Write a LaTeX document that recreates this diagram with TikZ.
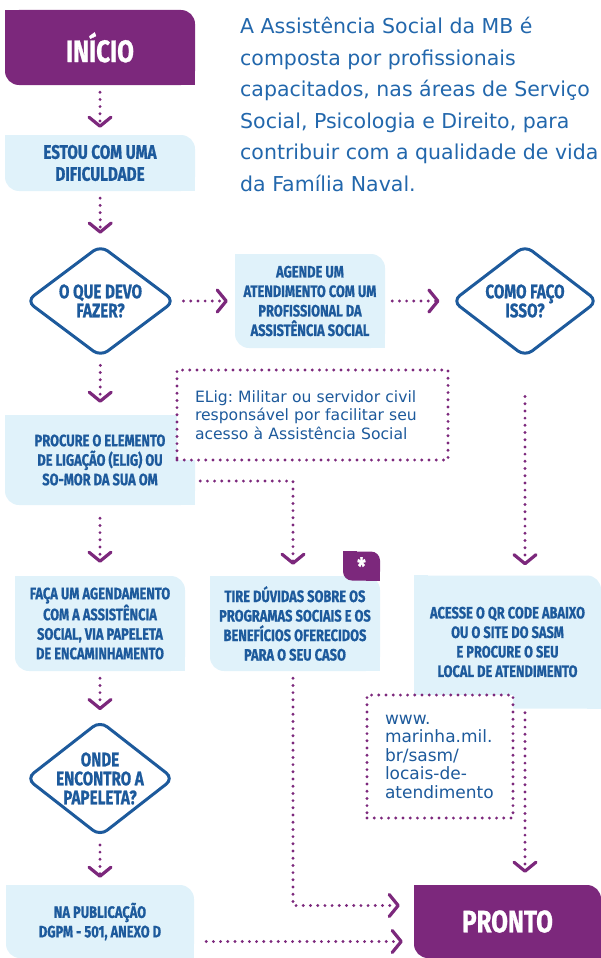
\documentclass[tikz,border=0pt]{standalone}
\usepackage{fontspec}
\setmainfont{DejaVu Sans}
\newfontfamily\capfont{Fira Sans}[FakeStretch=0.78, FakeBold=0.8]
\usetikzlibrary{shapes.geometric,arrows.meta}

\definecolor{purp}{HTML}{7C287C}
\definecolor{pale}{HTML}{E0F2FA}
\definecolor{ink}{HTML}{1D5A9C}
\definecolor{para}{HTML}{2267AC}

\tikzset{
  flow/.style={draw=purp, line width=3.2pt, line cap=round, dash pattern=on 0pt off 7.2pt,
    -{Straight Barb[length=9pt,width=22pt,round]}, shorten <=7pt, shorten >=7pt},
  caps/.style={font=\capfont\bfseries\fontsize{16.5}{19.5}\selectfont, text=ink, align=center},
  leaf/.style={caps, rectangle, fill=pale, rounded corners=14pt, inner sep=0pt},
  ask/.style={caps, font=\capfont\bfseries\fontsize{19.5}{19}\selectfont, diamond, draw=ink,
    line width=3pt, fill=white, rounded corners=9pt, inner sep=-6pt},
  note/.style={rectangle, draw=purp, line width=3.2pt, line cap=round, dash pattern=on 0pt off 7.2pt,
    fill=white, align=left, text=ink, font=\frenchspacing\fontsize{15.6}{18.5}\selectfont, inner xsep=18pt},
  big/.style={font=\capfont\bfseries\fontsize{31}{31}\selectfont, text=white, fill=purp},
}

\begin{document}
\begin{tikzpicture}[x=1pt, y=-1pt]
  % \draw[very thin, gray] (0,0) grid[step=50] (601,958);
  \useasboundingbox (0,0) rectangle (601,958);
  \def\rad{14}

  \node[anchor=north west, align=left, text=para, inner sep=0pt,
        font=\fontsize{20.5}{31.6}\selectfont] (intro) at (240,17)
    {A Assistência Social da MB é\\composta por profissionais\\capacitados, nas áreas de Serviço\\Social, Psicologia e Direito, para\\contribuir com a qualidade de vida\\da Família Naval.};

  \node[leaf, big, minimum width=190pt, minimum height=75pt] (start) at (100,47.5) {INÍCIO};
  \node[leaf, font=\capfont\bfseries\fontsize{19.5}{22}\selectfont, minimum width=190pt, minimum height=56pt]
    (trouble) at (100,163) {ESTOU COM UMA\\DIFICULDADE};
  \node[ask, minimum width=149pt, minimum height=112pt] (what) at (100.5,301) {O QUE DEVO\\FAZER?};
  \node[leaf, minimum width=150pt, minimum height=94pt] (book) at (310,301)
    {AGENDE UM\\ATENDIMENTO COM UM\\PROFISSIONAL DA\\ASSISTÊNCIA SOCIAL};
  \node[ask, minimum width=146pt, minimum height=112pt] (how) at (525,301) {COMO FAÇO\\ISSO?};
  \node[leaf, minimum width=190pt, minimum height=90pt] (seek) at (100,460)
    {PROCURE O ELEMENTO\\DE LIGAÇÃO (ELIG) OU\\SO-MOR DA SUA OM};
  \node[note, minimum width=271pt, minimum height=90pt, text width=235pt] (elig) at (312.5,415)
    {ELig: Militar ou servidor civil\\responsável por facilitar seu\\acesso à Assistência Social};
  \node[leaf, minimum width=170pt, minimum height=95pt] (schedule) at (100,623.5)
    {FAÇA UM AGENDAMENTO\\COM A ASSISTÊNCIA\\SOCIAL, VIA PAPELETA\\DE ENCAMINHAMENTO};
  \node[leaf, minimum width=170pt, minimum height=95pt] (doubts) at (295,623.5)
    {TIRE DÚVIDAS SOBRE OS\\PROGRAMAS SOCIAIS E OS\\BENEFÍCIOS OFERECIDOS\\PARA O SEU CASO};
  \node[leaf, fill=purp, text=white, font=\capfont\bfseries\fontsize{24}{24}\selectfont,
        minimum width=37pt, minimum height=29pt, rounded corners=9pt] (star) at (361.5,566) {*};
  \node[leaf, minimum width=187pt, minimum height=133pt] (access) at (507.5,642)
    {ACESSE O QR CODE ABAIXO\\OU O SITE DO SASM\\E PROCURE O SEU\\LOCAL DE ATENDIMENTO};
  \node[note, font=\fontsize{17}{18.5}\selectfont, minimum width=146pt, minimum height=123pt,
        text width=110pt] (url) at (440,756.5)
    {www.\\marinha.mil.\\br/sasm/\\locais-de-\\atendimento};
  \node[ask, minimum width=148pt, minimum height=113pt] (where) at (100,778.5) {ONDE\\ENCONTRO A\\PAPELETA?};
  \node[leaf, minimum width=188pt, minimum height=73pt] (pub) at (100,921.5) {NA PUBLICAÇÃO\\DGPM - 501, ANEXO D};
  \node[leaf, big, minimum width=187pt, minimum height=73pt] (done) at (507.5,921.5) {PRONTO};

  \foreach \n/\c in {start/purp, trouble/pale, book/pale, seek/pale, schedule/pale,
                     doubts/pale, star/purp, access/pale, pub/pale, done/purp} {
    \fill[\c] (\n.north west) rectangle ++(\rad pt,-\rad pt);
    \fill[\c] (\n.south east) rectangle ++(-\rad pt,\rad pt);
  }

  \draw[flow] (start) -- (trouble);
  \draw[flow, shorten >=10pt] (trouble) -- (what);
  \draw[flow] (what) -- (book);
  \draw[flow, shorten >=11pt] (book) -- (how);
  \draw[flow, shorten <=38pt, shorten >=10pt] (how) -- (how |- access.north);
  \draw[flow, shorten >=12pt] (what) -- (seek);
  \draw[flow, shorten <=5pt, shorten >=11pt] ([yshift=-21pt]seek.east) -| ([xshift=-2pt]doubts.north);
  \draw[flow, shorten <=13pt, shorten >=13pt] (seek) -- (schedule);
  \draw[flow, shorten >=9pt] (schedule) -- (where);
  \draw[flow] (where) -- (pub);
  \draw[flow, shorten >=14pt] ([xshift=-2pt]doubts.south) |- ([yshift=16pt]done.west);
  \draw[flow, shorten <=12pt, shorten >=11pt] ([yshift=-20pt]pub.east) -- ([yshift=-20pt]done.west);
  \draw[flow, shorten <=4pt, shorten >=12pt] (how |- access.south) -- (how |- done.north);
\end{tikzpicture}
\end{document}
